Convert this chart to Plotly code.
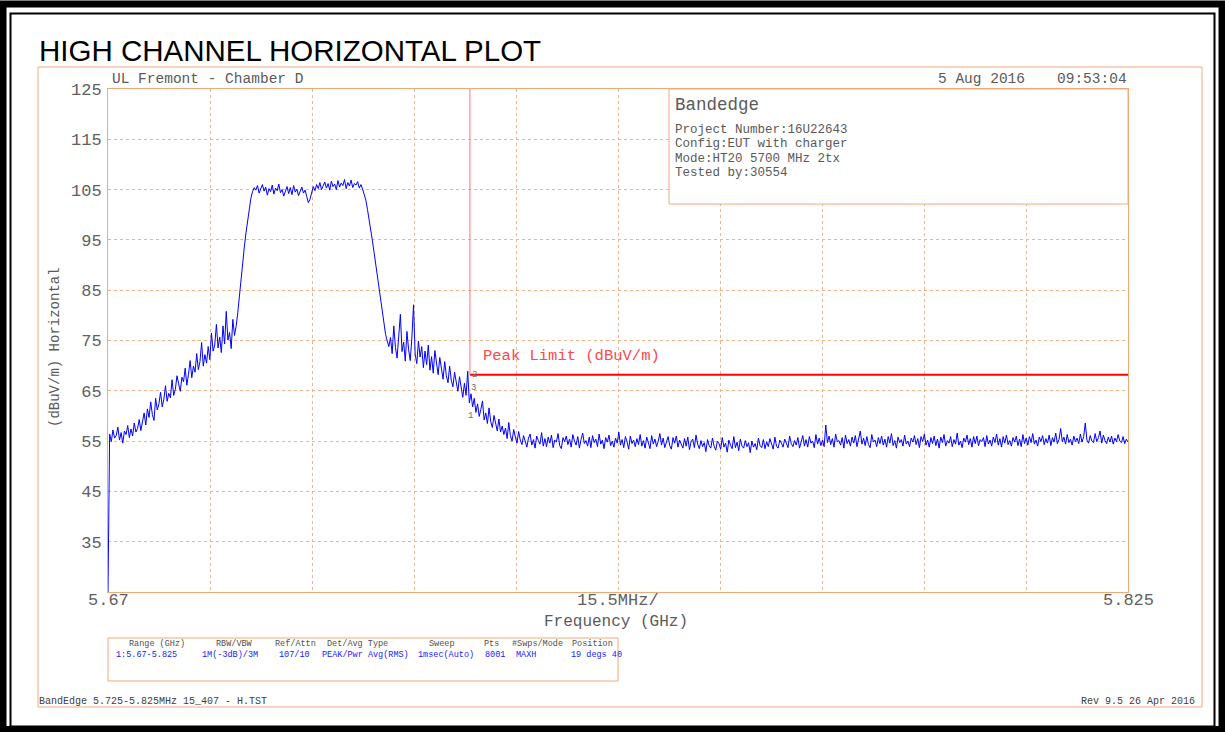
import numpy as np
import plotly.graph_objects as go

# ---------------- data ----------------
F_START_GHZ = 5.670
F_STOP_GHZ = 5.825
SPAN_PER_DIV_GHZ = 0.0155

# trace level in dBuV/m, evenly spread from start to stop frequency (~0.25 MHz steps)
level_dbuv = [
    25.0,
    # rising skirt
    56.4, 54.9, 57.2, 55.6, 56.1, 57.8, 55.2, 56.7, 54.6, 57.0,
    56.3, 58.1, 55.7, 57.4, 56.0, 58.6, 56.8, 57.5, 59.3, 57.1,
    58.9, 60.6, 58.2, 61.4, 59.7, 62.8, 60.3, 59.1, 63.5, 61.2,
    62.4, 64.7, 61.8, 63.3, 66.0, 62.9, 64.5, 63.6, 67.2, 64.1,
    65.3, 68.0, 66.4, 64.9, 67.7, 66.8, 69.5, 66.1, 68.3, 71.0,
    67.6, 69.9, 68.7, 72.4, 69.2, 70.8, 74.6, 69.9, 72.2, 70.5,
    73.8, 71.2, 76.5, 72.9, 74.1, 78.2, 73.5, 75.7, 72.6, 77.9,
    74.3, 80.8, 75.1, 76.6, 73.4, 79.2, 76.0, 77.8, 80.5, 84.0,
    87.2, 90.5, 93.6, 96.4, 99.1, 101.5, 103.3, 104.6, 105.4, 104.9,
    # plateau
    105.8, 104.3, 105.1, 106.0, 104.7, 105.5, 103.9, 105.2, 104.6, 105.9,
    104.1, 105.3, 104.8, 106.1, 104.4, 105.0, 103.7, 104.9, 105.6, 104.2,
    105.4, 104.0, 105.8, 104.5, 105.1, 103.8, 104.7, 105.5, 104.3, 104.9,
    103.6, 102.4, 103.1, 104.5, 105.6, 104.8, 106.0, 105.2, 106.4, 105.0,
    105.9, 106.5, 105.3, 106.2, 104.9, 106.7, 105.6, 106.1, 105.0, 106.8,
    105.5, 106.3, 105.8, 107.0, 105.2, 106.4, 105.7, 106.9, 105.4, 106.2,
    105.9, 106.6, 105.3, 106.0, 105.1,
    # falling skirt
    104.2, 102.9, 101.0, 99.2, 97.0, 94.8, 92.5, 90.1, 87.6, 85.0,
    82.3, 80.1, 77.8, 76.2, 74.9, 73.8, 75.6,
    72.4, 77.9, 73.6, 71.5, 76.3, 80.2, 72.8, 74.7, 70.9, 76.8,
    73.2, 71.0, 75.5, 82.1, 72.3, 70.4, 74.9, 71.7, 73.8, 69.6,
    72.9, 70.2, 74.1, 69.1, 71.8, 68.5, 73.0, 70.0, 68.2, 71.6,
    69.4, 67.3, 70.8, 68.0, 66.6, 69.9, 67.1, 65.8, 68.7, 66.3,
    64.9, 67.8, 65.2, 63.7, 66.5, 64.1, 68.9, 62.6, 64.4,
    61.8, 63.5, 60.7, 62.4, 59.9, 61.3, 63.0, 59.2, 60.6, 58.5,
    61.6, 58.9, 57.7, 60.1, 58.2, 57.0, 59.4, 56.8, 58.0, 56.3,
    57.6, 55.5, 58.7, 56.1, 55.0, 57.3, 55.8, 54.6, 56.9, 55.2,
    # noise floor
    54.3, 56.1, 55.0, 53.8, 55.6, 56.4, 54.2, 55.3, 53.6, 56.0,
    55.1, 54.4, 56.7, 54.0, 55.5, 53.9, 55.8, 54.6, 56.2, 53.7,
    55.2, 54.8, 56.5, 54.1, 53.5, 55.7, 54.9, 56.0, 54.3, 55.4,
    53.8, 56.3, 55.0, 54.2, 55.9, 53.6, 55.3, 56.6, 54.5, 55.1,
    54.0, 55.8, 53.7, 56.1, 54.7, 55.4, 53.9, 56.4, 54.4, 55.2,
    53.5, 55.7, 54.8, 56.2, 54.1, 55.0, 53.8, 55.6, 54.6, 56.8,
    54.2, 55.3, 53.7, 55.9, 54.9, 53.4, 56.0, 54.5, 55.2, 53.9,
    55.5, 54.3, 56.3, 54.0, 55.1, 53.6, 55.8, 54.7, 53.5, 56.1,
    54.4, 55.4, 53.9, 55.0, 56.5, 54.2, 55.6, 53.7, 54.8, 55.9,
    54.1, 53.4, 55.7, 54.6, 56.0, 53.8, 55.2, 54.3, 53.6, 55.5,
    54.0, 55.8, 53.3, 54.9, 55.4, 53.7, 56.2, 54.4, 53.5, 55.1,
    53.9, 54.7, 52.9, 55.3, 54.1, 53.6, 55.6, 54.0, 53.2, 55.0,
    54.5, 53.4, 55.7, 53.8, 54.6, 52.8, 55.2, 54.2, 53.5, 55.9,
    53.7, 54.8, 53.1, 55.4, 54.0, 53.6, 55.1, 53.9, 54.7, 52.7,
    55.0, 53.8, 54.5, 53.3, 55.6, 54.1, 53.7, 55.3, 53.5, 54.9,
    53.9, 55.5, 54.2, 53.4, 55.8, 54.0, 53.6, 55.2, 54.6, 53.8,
    55.4, 54.3, 53.7, 56.0, 54.5, 53.9, 55.1, 54.2, 55.7, 53.6,
    54.8, 56.1, 54.0, 55.3, 53.8, 55.9, 54.6, 55.0, 53.7, 56.3,
    54.4, 55.6, 54.1, 55.2, 53.9, 58.2, 54.7, 56.0, 54.3, 55.5,
    53.8, 56.4, 54.9, 55.1, 54.2, 55.7, 53.6, 56.2, 54.5, 55.3,
    54.0, 55.8, 54.6, 56.1, 53.9, 55.4, 57.0, 54.4, 55.6, 54.1,
    55.9, 54.3, 53.7, 56.3, 54.8, 55.2, 53.9, 55.7, 54.5, 56.0,
    54.2, 55.4, 53.8, 55.9, 54.6, 56.5, 54.1, 55.1, 53.6, 55.8,
    54.7, 55.3, 54.0, 56.2, 54.4, 55.0, 53.9, 55.6, 54.8, 56.1,
    54.3, 55.5, 53.7, 55.9, 54.9, 56.4, 54.2, 55.2, 53.8, 55.7,
    54.5, 56.0, 54.1, 55.4, 53.6, 55.8, 54.7, 56.3, 54.0, 55.1,
    54.6, 55.9, 53.9, 55.3, 54.4, 56.6, 54.2, 55.0, 53.7, 55.6,
    54.8, 56.2, 54.3, 55.5, 53.8, 55.9, 54.5, 56.0, 54.1, 55.3,
    54.9, 55.7, 53.9, 56.1, 54.4, 55.2, 54.0, 55.8, 54.7, 56.4,
    54.2, 55.5, 53.8, 55.9, 54.6, 56.2, 54.3, 55.1, 54.0, 55.7,
    54.8, 56.0, 54.1, 55.4, 53.9, 56.3, 54.5, 55.6, 54.2, 55.9,
    54.7, 56.5, 54.4, 55.2, 54.0, 55.8, 54.9, 56.1, 54.3, 55.5,
    54.6, 56.2, 54.1, 55.7, 54.8, 56.6, 54.5, 55.3, 57.5, 54.9,
    55.8, 54.4, 56.3, 54.7, 55.4, 54.2, 56.0, 54.9, 55.6, 54.5,
    56.4, 54.8, 55.9, 58.6, 55.2, 54.6, 56.1, 55.0, 54.7, 56.5,
    54.9, 55.7, 57.0, 54.6, 56.2, 55.1, 54.5, 55.8, 54.8, 56.0,
    54.4, 55.6, 54.9, 56.3, 55.0, 54.7, 55.9, 54.5, 55.4, 54.8,
]
freq_ghz = np.linspace(F_START_GHZ, F_STOP_GHZ, len(level_dbuv))

limit_freq_ghz = [5.725, 5.825]
limit_dbuv = [68.2, 68.2]
band_edge_ghz = 5.725

y_tick_vals = [35, 45, 55, 65, 75, 85, 95, 105, 115, 125]
x_label_vals = [5.670, 5.7475, 5.825]
x_label_text = ["5.67", "15.5MHz/", "5.825"]

info_title = "Bandedge"
info_lines = ["Project Number:16U22643", "Config:EUT with charger",
              "Mode:HT20 5700 MHz 2tx", "Tested by:30554"]
table_headers = ["Range (GHz)", "RBW/VBW", "Ref/Attn", "Det/Avg Type", "Sweep",
                 "Pts", "#Swps/Mode", "Position"]
table_values = ["1:5.67-5.825", "1M(-3dB)/3M", "107/10", "PEAK/Pwr Avg(RMS)",
                "1msec(Auto)", "8001", "MAXH", "19 degs 40"]

# ---------------- styling ----------------
W, H = 1225, 732
PL, PR, PT, PB = 108, 1128, 89, 592
ORANGE = "#F0AA78"
GRID = "#F2B48A"
GREY = "#5a5a5a"
MONO = "Liberation Mono"
SANS = "Liberation Sans"


def px(x):
    return (x - PL) / (PR - PL)


def py(y):
    return (PB - y) / (PB - PT)


x_tick_vals = [F_START_GHZ + k * SPAN_PER_DIV_GHZ for k in range(11)]

fig = go.Figure()
fig.add_trace(go.Scatter(x=freq_ghz, y=level_dbuv, mode="lines",
                         line=dict(color="#0000FF", width=1), hoverinfo="skip"))
fig.add_trace(go.Scatter(x=limit_freq_ghz, y=limit_dbuv, mode="lines",
                         line=dict(color="#FF0000", width=2), hoverinfo="skip"))

shapes = []
# black double page border
shapes.append(dict(type="rect", xref="paper", yref="paper",
                   x0=px(3), x1=px(1222), y0=py(4), y1=py(729.5),
                   line=dict(color="black", width=7), layer="above"))
shapes.append(dict(type="rect", xref="paper", yref="paper",
                   x0=px(10.5), x1=px(1214.5), y0=py(13.5), y1=py(726.5),
                   line=dict(color="black", width=2), layer="above"))
# orange outer frame
shapes.append(dict(type="rect", xref="paper", yref="paper",
                   x0=px(38), x1=px(1202), y0=py(67), y1=py(707),
                   line=dict(color=ORANGE, width=1), layer="above"))
# info box
shapes.append(dict(type="rect", xref="paper", yref="paper",
                   x0=px(669), x1=px(1128), y0=py(89), y1=py(204),
                   line=dict(color=ORANGE, width=1), fillcolor="white", layer="above"))
# settings table box
shapes.append(dict(type="rect", xref="paper", yref="paper",
                   x0=px(108), x1=px(618), y0=py(638), y1=py(681),
                   line=dict(color=ORANGE, width=1), layer="above"))
# band-edge marker line
shapes.append(dict(type="line", xref="x", yref="y",
                   x0=band_edge_ghz, x1=band_edge_ghz, y0=limit_dbuv[0], y1=125,
                   line=dict(color="#FF7070", width=1), layer="above"))

ann = []


def text(x, y, s, size, color=GREY, anchor="left", family=MONO, vanchor="middle", angle=0):
    ann.append(dict(xref="paper", yref="paper", x=px(x), y=py(y), text=s,
                    showarrow=False, xanchor=anchor, yanchor=vanchor, textangle=angle,
                    font=dict(family=family, size=size, color=color)))


text(37, 51, "HIGH CHANNEL HORIZONTAL PLOT", 29.5, "black", family=SANS)
text(110, 79, "UL Fremont - Chamber D", 14.5)
text(1027, 79, "5 Aug 2016", 14.5, anchor="right")
text(1129, 79, "09:53:04", 14.5, anchor="right")
text(673, 105, info_title, 17.5)
for i, line in enumerate(info_lines):
    text(673, 130 + i * 14.3, line, 12.5)
text(481, 356, "Peak Limit (dBuV/m)", 15.5, "#FF4848")
text(55, 347, "(dBuV/m) Horizontal", 14, angle=-90, anchor="center")
text(616, 622, "Frequency (GHz)", 16, anchor="center")

# x-axis labels (start, per-division span, stop)
for xv, xt in zip(x_label_vals, x_label_text):
    ann.append(dict(xref="x", yref="paper", x=xv, y=py(600), text=xt, showarrow=False,
                    xanchor="center", yanchor="middle",
                    font=dict(family=MONO, size=17, color="#606060")))

head_x = [157, 234, 295, 357, 442, 491, 537, 592]
val_x = [146, 230, 294, 365, 446, 495, 526, 596]
for hx, vx, h, v in zip(head_x, val_x, table_headers, table_values):
    text(hx, 644, h, 8.5, "#505050", anchor="center")
    text(vx, 655, v, 8.5, "#2020FF", anchor="center")

text(37, 701, "BandEdge 5.725-5.825MHz 15_407 - H.TST", 10, "#404040")
text(1197, 701, "Rev 9.5 26 Apr 2016", 10, "#404040", anchor="right")

# small band-edge marker glyphs
text(474, 375, "2", 9, "#707070", anchor="center")
text(473, 388, "3", 9, "#707070", anchor="center")
text(470, 416, "1", 9, "#707070", anchor="center")

fig.update_layout(
    width=W, height=H, autosize=False,
    margin=dict(l=PL, r=W - PR, t=PT, b=H - PB, pad=0),
    paper_bgcolor="white", plot_bgcolor="white",
    showlegend=False,
    shapes=shapes, annotations=ann,
    xaxis=dict(range=[F_START_GHZ, F_STOP_GHZ], tickmode="array",
               tickvals=x_tick_vals, showticklabels=False,
               showgrid=True, gridcolor=GRID, griddash="dot", gridwidth=1,
               showline=True, linecolor=ORANGE, linewidth=1, mirror=True,
               ticks="", zeroline=False),
    yaxis=dict(range=[25, 125], tickmode="array", tickvals=y_tick_vals,
               showgrid=True, gridcolor=GRID, griddash="dot", gridwidth=1,
               showline=True, linecolor=ORANGE, linewidth=1, mirror=True,
               ticks="", zeroline=False, ticklabelstandoff=2,
               tickfont=dict(family=MONO, size=17, color="#606060")),
)

fig.write_html("out.html", config={"displayModeBar": False},
               post_script="document.body.style.margin='0px';document.body.style.overflow='hidden';")
